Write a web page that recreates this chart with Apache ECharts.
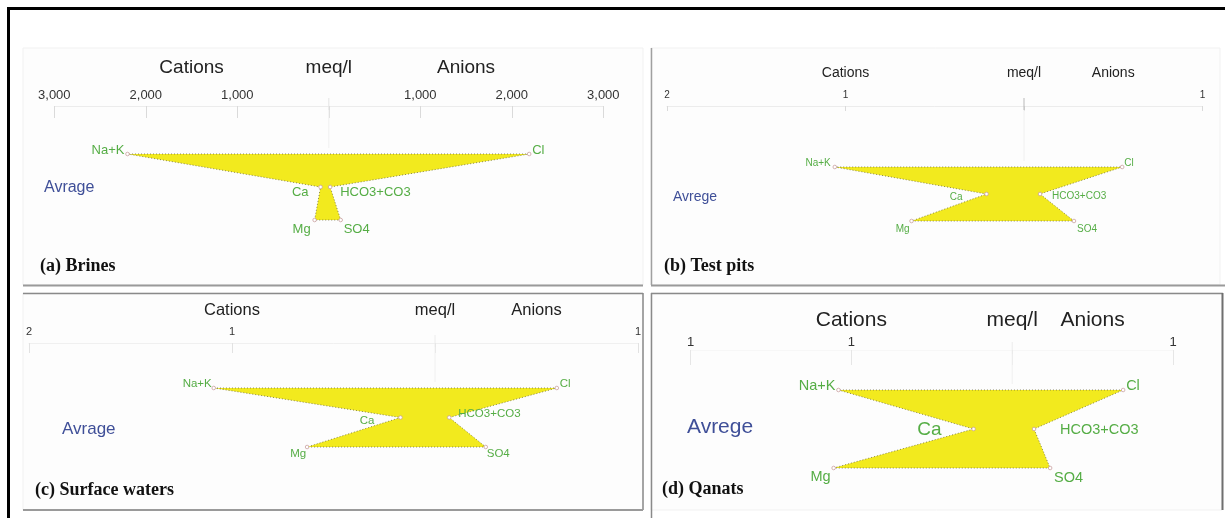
<!DOCTYPE html>
<html>
<head>
<meta charset="utf-8">
<script src="https://cdn.jsdelivr.net/npm/echarts@6/dist/echarts.min.js"></script>
<style>
  html, body { margin: 0; padding: 0; background: #fff; }
  #chart { width: 1225px; height: 518px; }
</style>
</head>
<body>
<div id="chart"></div>
<script>
// Stiff diagrams of average major-ion composition (meq/l)
const panelTitles = ['(a) Brines', '(b) Test pits', '(c) Surface waters', '(d) Qanats'];
const sampleNames = ['Avrage', 'Avrege', 'Avrage', 'Avrege'];
const cationNames = ['Na+K', 'Ca', 'Mg'];
const anionNames = ['Cl', 'HCO3+CO3', 'SO4'];

// cations: Na+K, Ca, Mg ; anions: Cl, HCO3+CO3, SO4
const brinesCations = [2200, 90, 155];
const brinesAnions = [2190, 15, 130];
const testPitsCations = [1.06, 0.21, 0.63];
const testPitsAnions = [0.55, 0.09, 0.28];
const surfaceCations = [1.09, 0.17, 0.63];
const surfaceAnions = [0.60, 0.07, 0.25];
const qanatsCations = [0.54, 0.12, 0.555];
const qanatsAnions = [0.345, 0.068, 0.118];

// scale of each panel: cation side extent, anion side extent, tick step
const cationExtent = [3000, 2, 2, 1];
const anionExtent = [3000, 1, 1, 0.5];
const tickStep = [1000, 1, 1, 0.5];

const cationSets = [brinesCations, testPitsCations, surfaceCations, qanatsCations];
const anionSets = [brinesAnions, testPitsAnions, surfaceAnions, qanatsAnions];

// per-panel layout and typography
const layout = [
  { grid: { left: 54.3, top: 154, width: 549, height: 66 }, offset: 48, tickFont: 13, labelMargin: 4.5, tickLen: 12,
    axisColor: '#ececec', tickColor: '#dadada',
    headFont: 19, headY: 68, headAt: [-1500, 0, 1500], zeroColor: '#e4e4e4',
    ionFont: 13, caFont: 13, hcoFont: 13,
    off: { nak: [-3, -4], cl: [3, -4], ca: [-12, 5], hco: [10, 5], mg: [-4, 9], so4: [3, 9] },
    sample: { x: 44, y: 188, size: 16 }, title: { x: 40, y: 266 } },
  { grid: { left: 667, top: 167, width: 535.5, height: 54 }, offset: 61, tickFont: 10, labelMargin: 6, tickLen: 5,
    axisColor: '#ececec', tickColor: '#dadada',
    headFont: 14, headY: 73, headAt: [-1, 0, 0.5], zeroColor: '#b9b9b9',
    ionFont: 10, caFont: 10, hcoFont: 10,
    off: { nak: [-4, -4], cl: [2, -4], ca: [-24, 3], hco: [12, 2], mg: [-2, 8], so4: [3, 8] },
    sample: { x: 673, y: 197, size: 14 }, title: { x: 664, y: 266 } },
  { grid: { left: 29, top: 388, width: 609, height: 59 }, offset: 45, tickFont: 11, labelMargin: 5.5, tickLen: 10,
    axisColor: '#f0f0f0', tickColor: '#e2e2e2',
    headFont: 16.5, headY: 310, headAt: [-1, 0, 0.5], zeroColor: '#ececec',
    ionFont: 11.5, caFont: 11.5, hcoFont: 11.5,
    off: { nak: [-2, -4], cl: [3, -4], ca: [-26, 3], hco: [9, -4], mg: [-1, 7], so4: [1, 7] },
    sample: { x: 62, y: 429, size: 17 }, title: { x: 35, y: 490 } },
  { grid: { left: 690.5, top: 390, width: 482.5, height: 78 }, offset: 40, tickFont: 13, labelMargin: 1.5, tickLen: 15,
    axisColor: '#f7f7f7', tickColor: '#e6e6e6',
    headFont: 21, headY: 320, headAt: [-0.5, 0, 0.25], zeroColor: '#ececec',
    ionFont: 14.5, caFont: 19, hcoFont: 14.5,
    off: { nak: [-3, -4], cl: [3, -4], ca: [-32, 1], hco: [26, 1], mg: [-3, 9], so4: [4, 10] },
    sample: { x: 687, y: 427, size: 21 }, title: { x: 662, y: 489 } }
];

const SANS = '"Liberation Sans", Arial, sans-serif';
const SERIF = '"Liberation Serif", "Times New Roman", serif';
const FILL = '#f2ea1e';
const ION = '#55ad45';
const SAMPLE = '#3f4f98';

const chart = echarts.init(document.getElementById('chart'), null, { renderer: 'canvas' });

const grids = [], xAxes = [], yAxes = [], series = [];

layout.forEach((L, i) => {
  grids.push(Object.assign({ containLabel: false }, L.grid));
  xAxes.push({
    type: 'value', gridIndex: i, position: 'top', offset: L.offset,
    min: -cationExtent[i], max: anionExtent[i], interval: tickStep[i],
    axisLine: { show: true, onZero: false, lineStyle: { color: L.axisColor, width: 1 } },
    axisTick: { show: true, inside: true, length: L.tickLen, lineStyle: { color: L.tickColor } },
    splitLine: { show: false },
    axisLabel: {
      color: '#333', fontSize: L.tickFont, fontFamily: SANS, margin: L.labelMargin,
      formatter: v => (Math.abs(v) < 1e-9 ? '' : Math.abs(v).toLocaleString('en-US', { maximumFractionDigits: 0 }))
    }
  });
  yAxes.push({ type: 'value', gridIndex: i, min: 0, max: 2, inverse: true, show: false });

  const cat = cationSets[i], an = anionSets[i];
  series.push({
    type: 'custom', xAxisIndex: i, yAxisIndex: i, clip: false, silent: true,
    data: [[cat[0], cat[1], cat[2], an[0], an[1], an[2]]],
    renderItem: (params, api) => {
      const nak = api.coord([-api.value(0), 0]);
      const ca = api.coord([-api.value(1), 1]);
      const mg = api.coord([-api.value(2), 2]);
      const cl = api.coord([api.value(3), 0]);
      const hco = api.coord([api.value(4), 1]);
      const so4 = api.coord([api.value(5), 2]);
      const pts = [nak, ca, mg, so4, hco, cl];
      const axisY = L.grid.top - L.offset;
      const zero = api.coord([0, 0]);
      const children = [];

      // zero tick and its faint continuation toward the diagram
      children.push({ type: 'line', shape: { x1: zero[0], y1: axisY + 4, x2: zero[0], y2: nak[1] - 6 },
        style: { stroke: '#f0f0f0', lineWidth: 1 } });
      children.push({ type: 'line', shape: { x1: zero[0], y1: axisY - 8, x2: zero[0], y2: axisY + 4 },
        style: { stroke: L.zeroColor, lineWidth: 1 } });

      children.push({ type: 'polygon', shape: { points: pts },
        style: { fill: FILL, stroke: '#6d6a3c', lineWidth: 0.8, lineDash: [1, 2] } });

      pts.forEach(p => children.push({ type: 'circle', shape: { cx: p[0], cy: p[1], r: 1.8 },
        style: { fill: '#fff', stroke: '#c9a0a0', lineWidth: 0.8 } }));

      const txt = (text, p, o, align, size) => ({
        type: 'text', x: p[0] + o[0], y: p[1] + o[1],
        style: { text, fill: ION, font: size + 'px ' + SANS, align, verticalAlign: 'middle' }
      });
      children.push(txt(cationNames[0], nak, L.off.nak, 'right', L.ionFont));
      children.push(txt(cationNames[1], ca, L.off.ca, 'right', L.caFont));
      children.push(txt(cationNames[2], mg, L.off.mg, 'right', L.ionFont));
      children.push(txt(anionNames[0], cl, L.off.cl, 'left', L.ionFont));
      children.push(txt(anionNames[1], hco, L.off.hco, 'left', L.hcoFont));
      children.push(txt(anionNames[2], so4, L.off.so4, 'left', L.ionFont));

      // header: Cations | meq/l | Anions
      const heads = ['Cations', 'meq/l', 'Anions'];
      heads.forEach((h, k) => {
        const hx = api.coord([L.headAt[k], 0])[0];
        children.push({ type: 'text', x: hx, y: L.headY,
          style: { text: h, fill: '#222', font: L.headFont + 'px ' + SANS, align: 'center', verticalAlign: 'middle' } });
      });
      return { type: 'group', children };
    }
  });
});

// panel frames
const frameLine = (x1, y1, x2, y2, stroke, w) => ({ type: 'line', silent: true, z: -1,
  shape: { x1, y1, x2, y2 }, style: { stroke, lineWidth: w } });

const graphics = [
  { type: 'rect', silent: true, z: -2, shape: { x: 23, y: 48, width: 620, height: 237 }, style: { fill: '#fdfdfd', stroke: '#f1f1f1', lineWidth: 1 } },
  { type: 'rect', silent: true, z: -2, shape: { x: 651, y: 48, width: 569, height: 237 }, style: { fill: '#fdfdfd', stroke: '#f1f1f1', lineWidth: 1 } },
  { type: 'rect', silent: true, z: -2, shape: { x: 23, y: 293, width: 620, height: 217 }, style: { fill: '#fdfdfd', stroke: '#f1f1f1', lineWidth: 1 } },
  { type: 'rect', silent: true, z: -2, shape: { x: 651, y: 293, width: 571, height: 217 }, style: { fill: '#fdfdfd', stroke: '#f1f1f1', lineWidth: 1 } },
  frameLine(7, 8.5, 1225, 8.5, '#000', 3),
  frameLine(8.5, 7, 8.5, 518, '#000', 3),
  frameLine(23, 285.5, 643, 285.5, '#9a9a9a', 2),
  frameLine(651, 285.5, 1225, 285.5, '#9a9a9a', 2),
  frameLine(651.5, 48, 651.5, 285, '#a0a0a0', 1.5),
  frameLine(23, 293.5, 643, 293.5, '#8a8a8a', 1.5),
  frameLine(643, 293, 643, 510, '#8a8a8a', 1.5),
  frameLine(23, 510, 643, 510, '#9a9a9a', 2),
  frameLine(651.5, 293, 651.5, 518, '#8a8a8a', 1.5),
  frameLine(651, 293.5, 1223, 293.5, '#8a8a8a', 1.5),
  frameLine(1222.5, 293, 1222.5, 510, '#6f6f6f', 2)
];

layout.forEach((L, i) => {
  graphics.push({ type: 'text', silent: true, x: L.sample.x, y: L.sample.y,
    style: { text: sampleNames[i], fill: SAMPLE, font: L.sample.size + 'px ' + SANS, verticalAlign: 'middle' } });
  graphics.push({ type: 'text', silent: true, x: L.title.x, y: L.title.y,
    style: { text: panelTitles[i], fill: '#111', font: 'bold 18px ' + SERIF, verticalAlign: 'middle' } });
});

chart.setOption({
  animation: false,
  backgroundColor: '#ffffff',
  grid: grids,
  xAxis: xAxes,
  yAxis: yAxes,
  series: series,
  graphic: graphics
});
</script>
</body>
</html>
